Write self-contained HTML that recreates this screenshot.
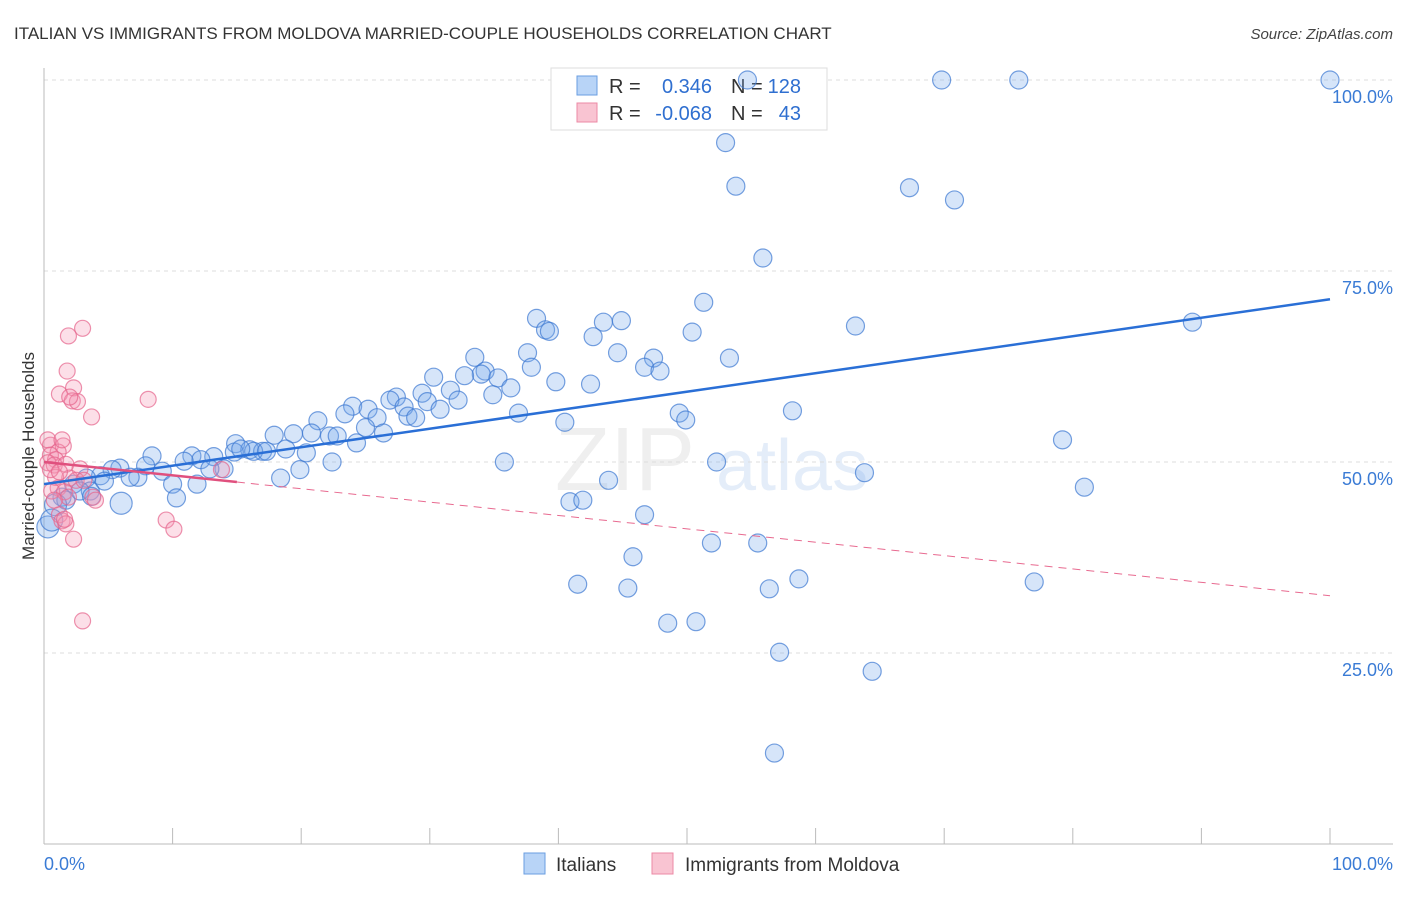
<!DOCTYPE html>
<html><head><meta charset="utf-8"><style>
body{margin:0;background:#fff;font-family:"Liberation Sans",sans-serif}
svg text{font-family:"Liberation Sans",sans-serif}
</style></head><body>
<svg id="chart" width="1406" height="892" viewBox="0 0 1406 892" xmlns="http://www.w3.org/2000/svg">
<text x="14" y="39" font-size="17" fill="#333">ITALIAN VS IMMIGRANTS FROM MOLDOVA MARRIED-COUPLE HOUSEHOLDS CORRELATION CHART</text>
<text x="1393" y="39" font-size="15" fill="#444" text-anchor="end" font-style="italic">Source: ZipAtlas.com</text>
<text transform="translate(34,456) rotate(-90)" font-size="17" fill="#333" text-anchor="middle">Married-couple Households</text>
<g opacity="0.13"><text x="555" y="490" font-size="90" font-family="Liberation Serif" fill="#888">ZIP</text><text x="716" y="490" font-size="72" fill="#3a7bd5">atlas</text></g>
<g id="grid"></g>
<g>
<rect x="551" y="68" width="276" height="62" fill="#fff" stroke="#ddd"/>
<rect x="577" y="76" width="20" height="19" fill="#b8d4f7" stroke="#6a9ee0"/>
<rect x="577" y="103" width="20" height="19" fill="#f9c4d2" stroke="#ec8aa5"/>
<text x="609" y="93" font-size="20" fill="#333">R =</text><text x="712" y="93" font-size="20" fill="#2f6fd0" text-anchor="end">0.346</text>
<text x="731" y="93" font-size="20" fill="#333">N =</text><text x="801" y="93" font-size="20" fill="#2f6fd0" text-anchor="end">128</text>
<text x="609" y="120" font-size="20" fill="#333">R =</text><text x="712" y="120" font-size="20" fill="#2f6fd0" text-anchor="end">-0.068</text>
<text x="731" y="120" font-size="20" fill="#333">N =</text><text x="801" y="120" font-size="20" fill="#2f6fd0" text-anchor="end">43</text>
</g>
<g id="marks"></g>
<g>
<rect x="524" y="853" width="21" height="21" fill="#b8d4f7" stroke="#6a9ee0"/>
<text x="556" y="871" font-size="19" fill="#333">Italians</text>
<rect x="652" y="853" width="21" height="21" fill="#f9c4d2" stroke="#ec8aa5"/>
<text x="685" y="871" font-size="19" fill="#333">Immigrants from Moldova</text>
</g>
</svg>
<script>
const blueX=[54.7,69.8,75.8,100,53.0,53.8,67.3,70.8,55.9,51.3,38.3,39.0,39.3,43.5,44.9,42.7,50.4,63.1,89.3,33.5,37.6,37.9,44.6,47.4,46.7,47.9,53.3,34.3,34.0,32.7,30.3,35.3,36.3,39.8,42.5,34.9,31.6,32.2,29.4,27.4,26.9,28.0,29.8,30.8,24.0,25.2,21.3,23.4,25.9,28.3,28.9,36.9,49.4,49.9,58.2,40.5,25.0,26.4,24.3,17.9,19.4,20.8,22.2,22.8,14.9,16.0,17.0,14.8,16.3,17.3,18.8,20.4,8.4,11.5,13.2,15.3,12.2,10.9,7.9,9.2,14.0,12.9,5.9,5.3,4.4,7.3,6.7,4.7,3.3,2.3,3.6,1.4,1.7,2.8,3.7,0.9,6.0,10.0,11.9,10.3,19.9,18.4,22.4,35.8,52.3,63.8,79.2,80.9,43.9,40.9,41.9,46.7,45.8,41.5,45.4,51.9,55.5,48.5,50.7,56.4,58.7,77.0,57.2,64.4,56.8,0.3,0.6];
const blueY=[100,100,100,100,91.8,86.1,85.9,84.3,76.7,70.9,68.8,67.3,67.1,68.3,68.5,66.4,67.0,67.8,68.3,63.7,64.3,62.4,64.3,63.6,62.4,61.9,63.6,61.9,61.5,61.3,61.1,61.0,59.7,60.5,60.2,58.8,59.4,58.1,59.0,58.5,58.1,57.2,57.9,56.9,57.3,56.9,55.4,56.3,55.8,56.0,55.8,56.4,56.4,55.5,56.7,55.2,54.5,53.8,52.5,53.5,53.7,53.8,53.4,53.4,52.4,51.6,51.4,51.3,51.4,51.4,51.7,51.2,50.8,50.8,50.7,51.7,50.3,50.1,49.5,48.8,49.1,49.1,49.2,49.0,48.2,48.0,48.0,47.5,47.9,47.1,46.2,45.4,45.0,46.2,45.5,44.4,44.6,47.1,47.1,45.3,49.0,47.9,50.0,50.0,50.0,48.6,52.9,46.7,47.6,44.8,45.0,43.1,37.6,34.0,33.5,39.4,39.4,28.9,29.1,33.4,34.7,34.3,25.1,22.6,11.9,41.5,42.4];
const pinkX=[3.0,1.9,1.8,2.3,1.2,2.2,2.6,2.0,3.7,8.1,0.5,1.5,1.1,0.5,0.9,0.3,0.8,1.7,2.8,2.0,2.5,1.1,0.6,1.6,1.9,3.8,4.0,1.2,1.4,1.7,1.6,2.3,9.5,10.1,3.0,0.9,0.5,1.2,3.1,13.8,0.8,0.3,1.4];
const pinkY=[67.5,66.5,61.9,59.7,58.9,58.0,57.9,58.5,55.9,58.2,52.2,52.1,51.3,50.9,50.3,49.9,49.6,49.7,49.1,47.9,47.6,46.6,46.2,46.1,45.4,45.4,45.0,43.1,42.3,41.9,42.5,39.9,42.4,41.2,29.2,48.0,49.0,48.7,47.6,49.0,45.0,52.9,52.9];
const blueTrend=[47.1,71.3];   // y at x=0 and x=100
const pinkTrend=[50.0,32.5];
const pinkSolidEnd=15;
const yTicks=[25,50,75,100];
const yTickLabels=["25.0%","50.0%","75.0%","100.0%"];
const xTicks=[10,20,30,40,50,60,70,80,90,100];

const X=v=>44+v*12.86, Y=v=>844-v*7.64;
const NS="http://www.w3.org/2000/svg";
function mk(tag,attrs,parent){const e=document.createElementNS(NS,tag);for(const k in attrs)e.setAttribute(k,attrs[k]);parent.appendChild(e);return e;}
const grid=document.getElementById('grid'), marks=document.getElementById('marks');
yTicks.forEach((t,i)=>{
 const l=mk('line',{x1:44,x2:1393,y1:Y(t),y2:Y(t),stroke:'#ddd','stroke-dasharray':'4,4'},grid);
 
 
 const tx=mk('text',{x:1393,y:Y(t)+23,'font-size':18,fill:'#3a7bd5','text-anchor':'end'},grid);tx.textContent=yTickLabels[i];
 
 
});
const ax=mk('line',{x1:44,x2:44,y1:68,y2:844,stroke:'#bbb'},grid);


const bx=mk('line',{x1:44,x2:1393,y1:844,y2:844,stroke:'#bbb'},grid);


xTicks.forEach(t=>{const l=mk('line',{x1:X(t),x2:X(t),y1:828,y2:844,stroke:'#bbb'},grid);
 
 });
let t0=mk('text',{x:44,y:870,'font-size':18,fill:'#3a7bd5'},grid);t0.textContent='0.0%';


let t1=mk('text',{x:1393,y:870,'font-size':18,fill:'#3a7bd5','text-anchor':'end'},grid);t1.textContent='100.0%';



blueX.forEach((x,i)=>{const c=mk('circle',{cx:X(x),cy:Y(blueY[i]),r:(x<1||i===96)?11:9,fill:'rgba(120,170,235,0.3)',stroke:'rgba(60,120,210,0.7)','stroke-width':1.2},marks);
 
 });
pinkX.forEach((x,i)=>{const c=mk('circle',{cx:X(x),cy:Y(pinkY[i]),r:8,fill:'rgba(245,150,180,0.3)',stroke:'rgba(230,100,140,0.7)','stroke-width':1.2},marks);
 
 });
const pAt=x=>pinkTrend[0]+(pinkTrend[1]-pinkTrend[0])*x/100;
const bl=mk('line',{x1:X(0),y1:Y(blueTrend[0]),x2:X(100),y2:Y(blueTrend[1]),stroke:'#2a6fd6','stroke-width':2.5},marks);


const pd=mk('line',{x1:X(pinkSolidEnd),y1:Y(pAt(pinkSolidEnd)),x2:X(100),y2:Y(pinkTrend[1]),stroke:'#e86a90','stroke-width':1,'stroke-dasharray':'8,6'},marks);


const ps=mk('line',{x1:X(0),y1:Y(pinkTrend[0]),x2:X(pinkSolidEnd),y2:Y(pAt(pinkSolidEnd)),stroke:'#e0507e','stroke-width':2.5},marks);


</script>
</body></html>
